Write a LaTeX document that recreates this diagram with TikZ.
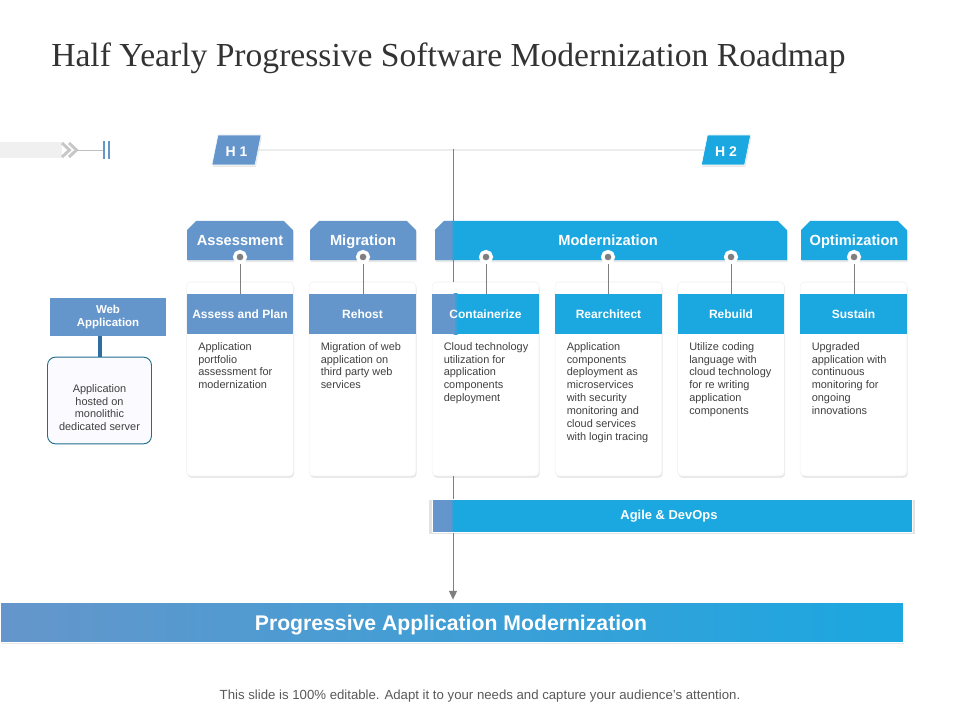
\documentclass[tikz,border=0pt]{standalone}
\usepackage{fontspec}
\setmainfont{Liberation Sans}
\newfontfamily\titlefont{Liberation Serif}
\usetikzlibrary{arrows.meta,shadows,shapes.geometric,shapes.misc}
\definecolor{steelA}{HTML}{6596CB}
\definecolor{skyA}{HTML}{1BA7E0}
\definecolor{greyA}{HTML}{7F7F7F}
\definecolor{bodyA}{HTML}{404040}
\definecolor{serverA}{HTML}{1F6E8C}
\definecolor{linkA}{HTML}{2E6DA4}
\tikzset{
    softshadow/.style={drop shadow={shadow xshift=.6pt, shadow yshift=-1.4pt, opacity=.2, fill=black!45}},
    wideshadow/.style={drop shadow={shadow scale=1.012, shadow xshift=0pt, shadow yshift=-.5pt, opacity=.25, fill=black!45}},
    blueleft/.style={path picture={
        \fill[steelA] (path picture bounding box.north west) rectangle ([xshift=#1-3pt]path picture bounding box.south west);
        \shade[left color=steelA, right color=skyA] ([xshift=#1-3pt]path picture bounding box.north west) rectangle ([xshift=#1]path picture bounding box.south west);}},
    plainhead/.style={},
    parthead/.style={blueleft=19pt},
    card/.style={draw=black!6, fill=white, rounded corners=3pt, minimum width=80pt, minimum height=145.5pt, softshadow},
    cardhead/.style={fill=#1, text=white, font=\fontsize{9}{11}\selectfont\bfseries, minimum width=80pt, minimum height=30pt, inner sep=0pt},
    phase/.style={chamfered rectangle, chamfered rectangle corners={north west,north east}, chamfered rectangle xsep=3.5pt, chamfered rectangle ysep=3.5pt,
        fill=#1, text=white, font=\fontsize{11}{13}\selectfont\bfseries, text height=8.5pt, text depth=1.5pt, minimum height=29.5pt, inner sep=0pt, softshadow},
    halfmark/.style={trapezium, trapezium left angle=75, trapezium right angle=105, trapezium stretches=true, draw=white, fill=#1, text=white,
        font=\fontsize{10.5}{13}\selectfont\bfseries, text height=10pt, text depth=0pt, minimum width=37pt, minimum height=22.5pt, inner sep=0pt, softshadow},
    bodytext/.style={anchor=north west, align=left, text=bodyA, inner sep=0pt, font=\fontsize{8.2}{9.65}\selectfont},
    dot/.style={circle, fill=greyA, draw=white, line width=2.6pt, minimum size=8pt, inner sep=0pt},
    stem/.style={draw=greyA, line width=.7pt},
}
\begin{document}
\begin{tikzpicture}[x=.75pt, y=-.75pt]
    \useasboundingbox (0,0) rectangle (960,720);

    \node[anchor=base west, inner sep=0pt, text=black!80, font=\titlefont\fontsize{25.2}{30}\selectfont] (title) at (51,67) {Half Yearly Progressive Software Modernization Roadmap};

    % timeline
    \fill[black!6] (0,142) rectangle (62,158);
    \draw[black!22, line width=2.2pt] (62,143) -- (69.5,150) -- (62,157) (69,143) -- (76.5,150) -- (69,157);
    \coordinate (chevEnd) at (77,150);
    \coordinate (tickEnd) at (103,150);
    \draw[black!25, line width=.6pt] (chevEnd) -- (tickEnd);
    \draw[steelA, line width=1.6pt] (104,141) -- (104,159) (109,141) -- (109,159);
    \node[halfmark=steelA] (h1) at (236.5,150) {H 1};
    \node[halfmark=skyA] (h2) at (726,150) {H 2};
    \draw[black!20, line width=.6pt] (h1) -- (h2);

    % main line, runs behind the boxes
    \coordinate (lineTop) at (453,149);
    \node[left color=steelA, right color=skyA, draw=white, text=white, minimum width=677pt, minimum height=30pt, inner sep=0pt,
        font=\fontsize{15.9}{18}\selectfont\bfseries, text height=12.5pt, text depth=1pt, softshadow] (result) at (452,622.5) {Progressive Application Modernization\hspace*{1.5pt}};
    \draw[stem, -{Triangle[length=6.5pt, width=6pt]}, shorten >=2pt] (lineTop) -- (lineTop |- result.north);

    % phases
    \node[phase=steelA, minimum width=79.5pt] (assess) at (240,240.5) {Assessment};
    \node[phase=steelA, minimum width=79.5pt] (migrate) at (363,240.5) {Migration};
    \node[phase=skyA, minimum width=264pt, blueleft=14.5pt] (modern) at (611,240.5) {Modernization\hspace*{4.5pt}};
    \node[phase=skyA, minimum width=79.5pt] (optim) at (854,240.5) {Optimization};
    \draw[stem] (lineTop) -- (lineTop |- modern.north);

    % cards
    \foreach \name/\xpos/\col/\kind/\head/\body in {
        a/240/steelA/plainhead/{Assess and Plan}/{Application\\portfolio\\assessment for\\modernization},
        b/362.5/steelA/plainhead/Rehost/{Migration of web\\application on\\third party web\\services},
        c/485.5/skyA/parthead/Containerize/{Cloud technology\\utilization for\\application\\components\\deployment},
        d/608.5/skyA/plainhead/Rearchitect/{Application\\components\\deployment as\\microservices\\with security\\monitoring and\\cloud services\\with login tracing},
        e/731/skyA/plainhead/Rebuild/{Utilize coding\\language with\\cloud technology\\for re writing\\application\\components},
        f/853.5/skyA/plainhead/Sustain/{Upgraded\\application with\\continuous\\monitoring for\\ongoing\\innovations}}{
        \node[card] (card\name) at (\xpos,379) {};
        \node[cardhead=\col, \kind] (head\name) at (\xpos,314) {\head};
        \node[bodytext] (body\name) at (\xpos-42,342) {\body};
    }
    \draw[stem] (lineTop |- modern.south) -- (lineTop |- cardc.north);

    \foreach \name/\xpos in {a/240,b/363,c/486,d/608,e/731,f/854}{
        \node[dot] (dot\name) at (\xpos,257) {};
        \draw[stem] (dot\name) -- (dot\name |- head\name.north);
    }

    % agile bar
    \node[fill=skyA, draw=white, text=white, minimum width=360pt, minimum height=25pt, inner sep=0pt,
        font=\fontsize{9.7}{11}\selectfont\bfseries, blueleft=16.5pt, wideshadow] (agile) at (672,516) {Agile \& DevOps\hspace*{4.5pt}};
    \draw[stem] (lineTop |- cardc.south) -- (lineTop |- agile.north);

    % web application
    \node[fill=steelA, text=white, align=center, minimum width=87pt, minimum height=28.5pt, inner sep=0pt,
        font=\fontsize{8.6}{10.3}\selectfont\bfseries] (web) at (108,317) {Web\\Application};
    \node[draw=serverA, line width=.7pt, fill=blue!2, rounded corners=6pt, text=bodyA, align=center, minimum width=78pt, minimum height=65pt, inner sep=0pt,
        font=\fontsize{8.2}{9.65}\selectfont] (server) at (99.5,400.5) {\rule{0pt}{16.5pt}Application\\hosted on\\monolithic\\dedicated server};
    \draw[linkA, line width=3pt] (server.north) -- (server.north |- web.south);

    \node[text=black!65, inner sep=0pt, font=\fontsize{9.9}{11}\selectfont] (footer) at (480,696.5) {This slide is 100\% editable. Adapt it to your needs and capture your audience's attention.};
\end{tikzpicture}
\end{document}
